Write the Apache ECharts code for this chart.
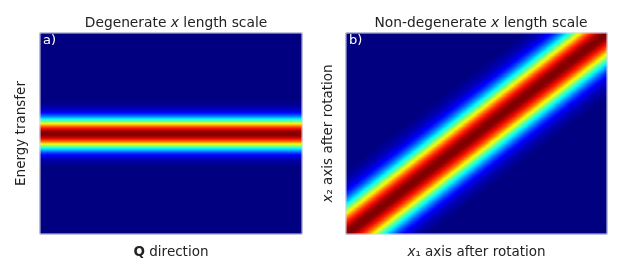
<!DOCTYPE html>
<html>
<head>
<meta charset="utf-8">
<script src="https://cdn.jsdelivr.net/npm/echarts@6/dist/echarts.min.js"></script>
<style>html,body{margin:0;padding:0;background:#fff}#c{width:623px;height:277px}</style>
</head>
<body>
<div id="c"></div>
<script>
// Grid resolution of each map (cells)
const nColsA = 131;   // panel a: band is constant along x
const nColsB = 261;   // panel b
const nRows = 201;
// Panel a: intensity vs. row distance from the band centre
const profileA = [1.00, 0.995, 0.982, 0.960, 0.930, 0.893, 0.849, 0.801, 0.748, 0.693,
                  0.635, 0.578, 0.520, 0.465, 0.411, 0.360, 0.313, 0.270, 0.230, 0.195,
                  0.163, 0.135, 0.111, 0.091, 0.073, 0.059, 0.047, 0.037, 0.029, 0.022,
                  0.017, 0.013, 0.010];
// Panel b: intensity vs. horizontal distance (2-column steps) from the diagonal ridge
const profileB = [1.00, 0.997, 0.990, 0.977, 0.959, 0.936, 0.910, 0.879, 0.846, 0.809,
                  0.769, 0.728, 0.685, 0.642, 0.598, 0.554, 0.511, 0.468, 0.427, 0.388,
                  0.350, 0.314, 0.281, 0.250, 0.221, 0.194, 0.170, 0.148, 0.128, 0.110,
                  0.094, 0.080, 0.068, 0.057, 0.048, 0.040, 0.033, 0.027, 0.023, 0.018, 0.015];
const titles = ['Degenerate ', 'Non-degenerate '];
const panelLabels = ['a)', 'b)'];
const jet = ['#000080', '#0000ff', '#0080ff', '#00ffff', '#80ff80', '#ffff00', '#ff8000', '#ff1000', '#800000'];

const colsA = Array.from({length: nColsA}, (_, i) => i);
const colsB = Array.from({length: nColsB}, (_, i) => i);
const rows = Array.from({length: nRows}, (_, i) => i);
const centerRow = (nRows - 1) / 2;

const dataA = [], dataB = [];
for (let r = 0; r < nRows; r++) {
  const ka = Math.abs(r - centerRow);
  const va = ka < profileA.length ? profileA[ka] : 0;
  for (let c = 0; c < nColsA; c++) dataA.push([c, r, va]);
  for (let c = 0; c < nColsB; c++) {
    const h = (c + 0.5) - nColsB * (r + 0.5) / nRows;
    const kb = Math.round(Math.abs(h) / 2);
    dataB.push([c, r, kb < profileB.length ? profileB[kb] : 0]);
  }
}

const font = 'DejaVu Sans';
const txt = '#222';
const fs = 13.5;
const chart = echarts.init(document.getElementById('c'), null, {renderer: 'canvas'});

function xAx(idx, cats, name) {
  return {type: 'category', gridIndex: idx, data: cats, boundaryGap: true,
    axisTick: {show: false}, axisLabel: {show: false}, splitLine: {show: false},
    axisLine: {show: false},
    name: name, nameLocation: 'middle', nameGap: 11,
    nameTextStyle: {fontFamily: font, fontSize: fs, color: txt,
      rich: {b: {fontFamily: font, fontSize: fs, fontWeight: 'bold', color: txt},
             i: {fontFamily: font, fontSize: fs, fontStyle: 'italic', color: txt},
             n: {fontFamily: font, fontSize: fs, color: txt}}}};
}
function yAx(idx, name, gap) {
  return {type: 'category', gridIndex: idx, data: rows, boundaryGap: true,
    axisTick: {show: false}, axisLabel: {show: false}, splitLine: {show: false},
    axisLine: {show: false},
    name: name, nameLocation: 'middle', nameGap: gap, nameRotate: 90,
    nameTextStyle: {fontFamily: font, fontSize: fs, color: txt,
      rich: {i: {fontFamily: font, fontSize: fs, fontStyle: 'italic', color: txt},
             n: {fontFamily: font, fontSize: fs, color: txt}}}};
}
const tfs = 13.8;
const titleRich = {
  n: {fontFamily: font, fontSize: tfs, color: txt},
  i: {fontFamily: font, fontSize: tfs, fontStyle: 'italic', color: txt}
};

chart.setOption({
  animation: false,
  backgroundColor: '#fff',
  title: [
    {text: '{n|' + titles[0] + '}{i|x}{n| length scale}', left: 171, top: 11, textAlign: 'center',
      textStyle: {rich: titleRich, fontFamily: font, fontSize: tfs, fontWeight: 'normal', color: txt}},
    {text: '{n|' + titles[1] + '}{i|x}{n| length scale}', left: 476, top: 11, textAlign: 'center',
      textStyle: {rich: titleRich, fontFamily: font, fontSize: tfs, fontWeight: 'normal', color: txt}}
  ],
  grid: [
    {left: 40, top: 33, width: 262, height: 201, show: true, z: 10, borderColor: '#d4d4e4', borderWidth: 1, backgroundColor: 'transparent'},
    {left: 346, top: 33, width: 261, height: 201, show: true, z: 10, borderColor: '#d4d4e4', borderWidth: 1, backgroundColor: 'transparent'}
  ],
  xAxis: [xAx(0, colsA, '{b|Q}{n| direction}'), xAx(1, colsB, '{i|x}{n|₁ axis after rotation}')],
  yAxis: [yAx(0, 'Energy transfer', 12), yAx(1, '{i|x}{n|₂ axis after rotation}', 11)],
  visualMap: {show: false, type: 'continuous', min: 0, max: 1, seriesIndex: [0, 1],
    inRange: {color: jet}},
  graphic: [
    {type: 'text', left: 43, top: 34, z: 20, style: {text: panelLabels[0], fill: '#fff', font: '13px "DejaVu Sans"'}},
    {type: 'text', left: 349, top: 34, z: 20, style: {text: panelLabels[1], fill: '#fff', font: '13px "DejaVu Sans"'}}
  ],
  series: [
    {type: 'heatmap', xAxisIndex: 0, yAxisIndex: 0, data: dataA, progressive: 0, emphasis: {disabled: true}},
    {type: 'heatmap', xAxisIndex: 1, yAxisIndex: 1, data: dataB, progressive: 0, emphasis: {disabled: true}}
  ]
});
</script>
</body>
</html>
